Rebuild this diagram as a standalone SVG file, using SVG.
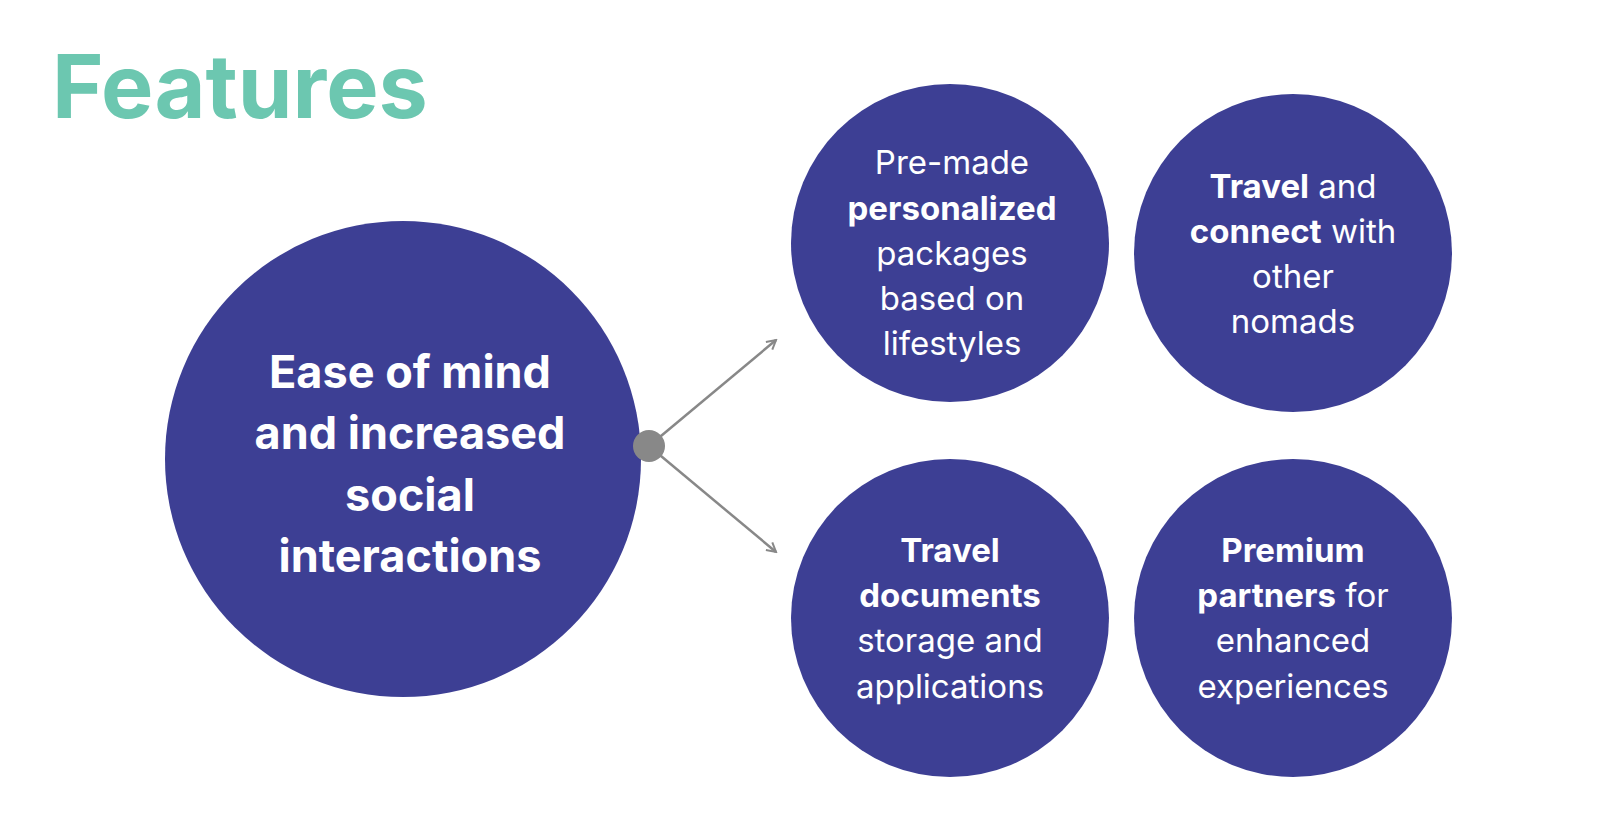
<svg xmlns="http://www.w3.org/2000/svg" width="1600" height="837" viewBox="0 0 1600 837">
<style>
.c{fill:#3D3F94}
.t{font-family:Inter,"Liberation Sans",sans-serif;fill:#fff;text-anchor:middle;font-size:33px}
.b{font-weight:700}
.big{font-family:Inter,"Liberation Sans",sans-serif;fill:#fff;text-anchor:middle;font-size:45px;font-weight:700}
</style>
<defs><marker id="a" markerWidth="12" markerHeight="12" refX="10" refY="6" orient="auto" markerUnits="userSpaceOnUse"><path d="M1,1 L10,6 L1,11" fill="none" stroke="#888" stroke-width="2"/></marker></defs>
<rect width="1600" height="837" fill="#fff"/>
<text x="52" y="118" font-family="Inter,'Liberation Sans',sans-serif" font-weight="700" font-size="88" fill="#6CC7B0">Features</text>
<g id="main"><circle class="c" cx="403" cy="459" r="238"/>
<text class="big" x="410"><tspan x="410" y="388">Ease of mind</tspan><tspan x="410" y="449">and increased</tspan><tspan x="410" y="511">social</tspan><tspan x="410" y="572">interactions</tspan></text></g>
<g id="connectors" stroke="#888" stroke-width="2.5" fill="none">
<line x1="649" y1="446" x2="776" y2="340" marker-end="url(#a)"/>
<line x1="649" y1="446" x2="776" y2="552" marker-end="url(#a)"/>
<circle cx="649" cy="446" r="16" fill="#888" stroke="none"/>
</g>
<g id="n1"><circle class="c" cx="950" cy="243" r="159"/>
<text class="t"><tspan x="952" y="174">Pre-made</tspan><tspan x="952" y="220" class="b">personalized</tspan><tspan x="952" y="265">packages</tspan><tspan x="952" y="310">based on</tspan><tspan x="952" y="355">lifestyles</tspan></text></g>
<g id="n2"><circle class="c" cx="1293" cy="253" r="159"/>
<text class="t"><tspan x="1293" y="198"><tspan class="b">Travel</tspan> and</tspan><tspan x="1293" y="243"><tspan class="b">connect</tspan> with</tspan><tspan x="1293" y="288">other</tspan><tspan x="1293" y="333">nomads</tspan></text></g>
<g id="n3"><circle class="c" cx="950" cy="618" r="159"/>
<text class="t"><tspan x="950" y="562" class="b">Travel</tspan><tspan x="950" y="607" class="b">documents</tspan><tspan x="950" y="652">storage and</tspan><tspan x="950" y="698">applications</tspan></text></g>
<g id="n4"><circle class="c" cx="1293" cy="618" r="159"/>
<text class="t"><tspan x="1293" y="562" class="b">Premium</tspan><tspan x="1293" y="607"><tspan class="b">partners</tspan> for</tspan><tspan x="1293" y="652">enhanced</tspan><tspan x="1293" y="698">experiences</tspan></text></g>
</svg>
